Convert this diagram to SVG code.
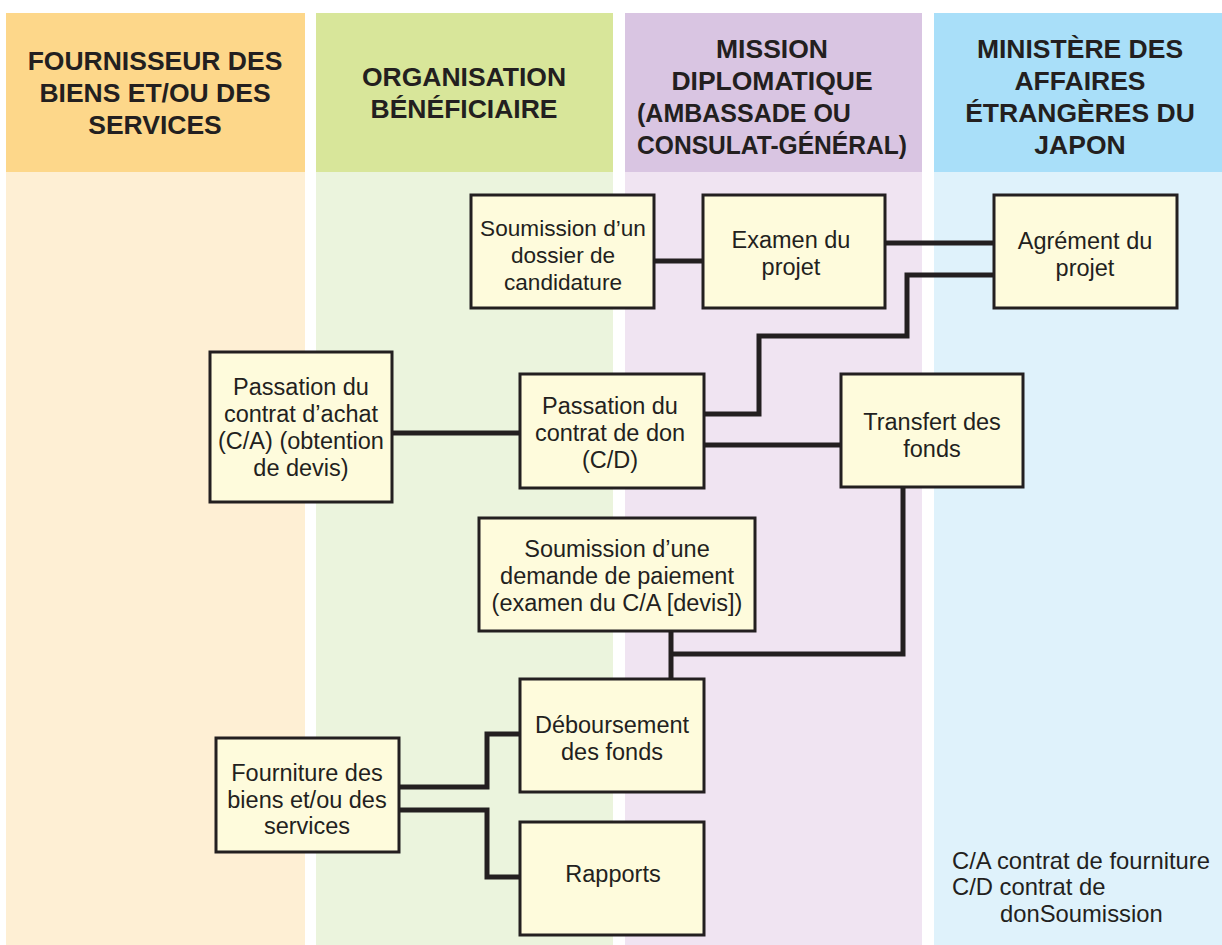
<svg xmlns="http://www.w3.org/2000/svg" width="1222" height="945" viewBox="0 0 1222 945">
<style>
.hd{font-family:"Liberation Sans",Arial,sans-serif;font-weight:bold;font-size:26.5px;fill:#231f20;text-anchor:middle}
.hl{text-anchor:start;font-size:25px}
.bx rect{fill:#fefbdc;stroke:#231f20;stroke-width:3}
.bx text{font-family:"Liberation Sans",Arial,sans-serif;font-size:23.5px;fill:#231f20;text-anchor:middle}
#n_soumission_dossier text{font-size:22.6px}
.lg{font-family:"Liberation Sans",Arial,sans-serif;font-size:23.8px;fill:#231f20}
.cn path{fill:none;stroke:#231f20;stroke-width:5}
</style>
<rect x="0" y="0" width="1222" height="945" fill="#ffffff"/>
<g id="lanes">
<rect x="6" y="13" width="299" height="159" fill="#fdd78a"/>
<rect x="6" y="172" width="299" height="773" fill="#feefd4"/>
<rect x="316" y="13" width="297" height="159" fill="#d8e69a"/>
<rect x="316" y="172" width="297" height="773" fill="#ebf4dd"/>
<rect x="625" y="13" width="297" height="159" fill="#d9c5e2"/>
<rect x="625" y="172" width="297" height="773" fill="#f0e4f2"/>
<rect x="934" y="13" width="288" height="159" fill="#a9dff9"/>
<rect x="934" y="172" width="288" height="773" fill="#dff2fb"/>
<text class="hd" x="155" y="70">FOURNISSEUR DES</text>
<text class="hd" x="155" y="102">BIENS ET/OU DES</text>
<text class="hd" x="155" y="134">SERVICES</text>
<text class="hd" x="464" y="86">ORGANISATION</text>
<text class="hd" x="464" y="118">BÉNÉFICIAIRE</text>
<text class="hd" x="772" y="58">MISSION</text>
<text class="hd" x="772" y="90">DIPLOMATIQUE</text>
<text class="hd hl" x="637" y="122">(AMBASSADE OU</text>
<text class="hd hl" x="637" y="154" textLength="270" lengthAdjust="spacingAndGlyphs">CONSULAT-GÉNÉRAL)</text>
<text class="hd" x="1080" y="58">MINISTÈRE DES</text>
<text class="hd" x="1080" y="90">AFFAIRES</text>
<text class="hd" x="1080" y="122">ÉTRANGÈRES DU</text>
<text class="hd" x="1080" y="154">JAPON</text>
</g>
<g class="cn" id="connectors">
<path d="M654 261H703"/>
<path d="M885 243H994"/>
<path d="M994 275H907V336H759V414H704"/>
<path d="M704 445H841"/>
<path d="M392 433H520"/>
<path d="M903 487V654H671"/>
<path d="M671 631V679"/>
<path d="M399 787H487V734H520"/>
<path d="M399 810H487V877H520"/>
</g>
<g class="bx" id="n_soumission_dossier">
<rect x="471" y="195" width="183" height="113"/>
<text x="563" y="236">Soumission d’un</text>
<text x="563" y="263">dossier de</text>
<text x="563" y="290">candidature</text>
</g>
<g class="bx" id="n_examen">
<rect x="703" y="195" width="182" height="113"/>
<text x="791" y="248">Examen du</text>
<text x="791" y="275">projet</text>
</g>
<g class="bx" id="n_agrement">
<rect x="994" y="195" width="183" height="113"/>
<text x="1085" y="249">Agrément du</text>
<text x="1085" y="276">projet</text>
</g>
<g class="bx" id="n_passation_achat">
<rect x="210" y="352" width="182" height="150"/>
<text x="301" y="395">Passation du</text>
<text x="301" y="422">contrat d’achat</text>
<text x="301" y="449">(C/A) (obtention</text>
<text x="301" y="476">de devis)</text>
</g>
<g class="bx" id="n_passation_don">
<rect x="520" y="374" width="184" height="114"/>
<text x="610" y="414">Passation du</text>
<text x="610" y="441">contrat de don</text>
<text x="610" y="468">(C/D)</text>
</g>
<g class="bx" id="n_transfert">
<rect x="841" y="374" width="182" height="113"/>
<text x="932" y="430">Transfert des</text>
<text x="932" y="457">fonds</text>
</g>
<g class="bx" id="n_soumission_demande">
<rect x="479" y="518" width="276" height="113"/>
<text x="617" y="557">Soumission d’une</text>
<text x="617" y="584">demande de paiement</text>
<text x="617" y="611">(examen du C/A [devis])</text>
</g>
<g class="bx" id="n_deboursement">
<rect x="520" y="679" width="184" height="113"/>
<text x="612" y="733">Déboursement</text>
<text x="612" y="760">des fonds</text>
</g>
<g class="bx" id="n_fourniture">
<rect x="216" y="738" width="183" height="114"/>
<text x="307" y="781">Fourniture des</text>
<text x="307" y="808">biens et/ou des</text>
<text x="307" y="834">services</text>
</g>
<g class="bx" id="n_rapports">
<rect x="520" y="822" width="184" height="113"/>
<text x="613" y="882">Rapports</text>
</g>
<g id="legend">
<text class="lg" x="952" y="869">C/A contrat de fourniture</text>
<text class="lg" x="952" y="895">C/D contrat de</text>
<text class="lg" x="1000" y="922">donSoumission</text>
</g>
</svg>
